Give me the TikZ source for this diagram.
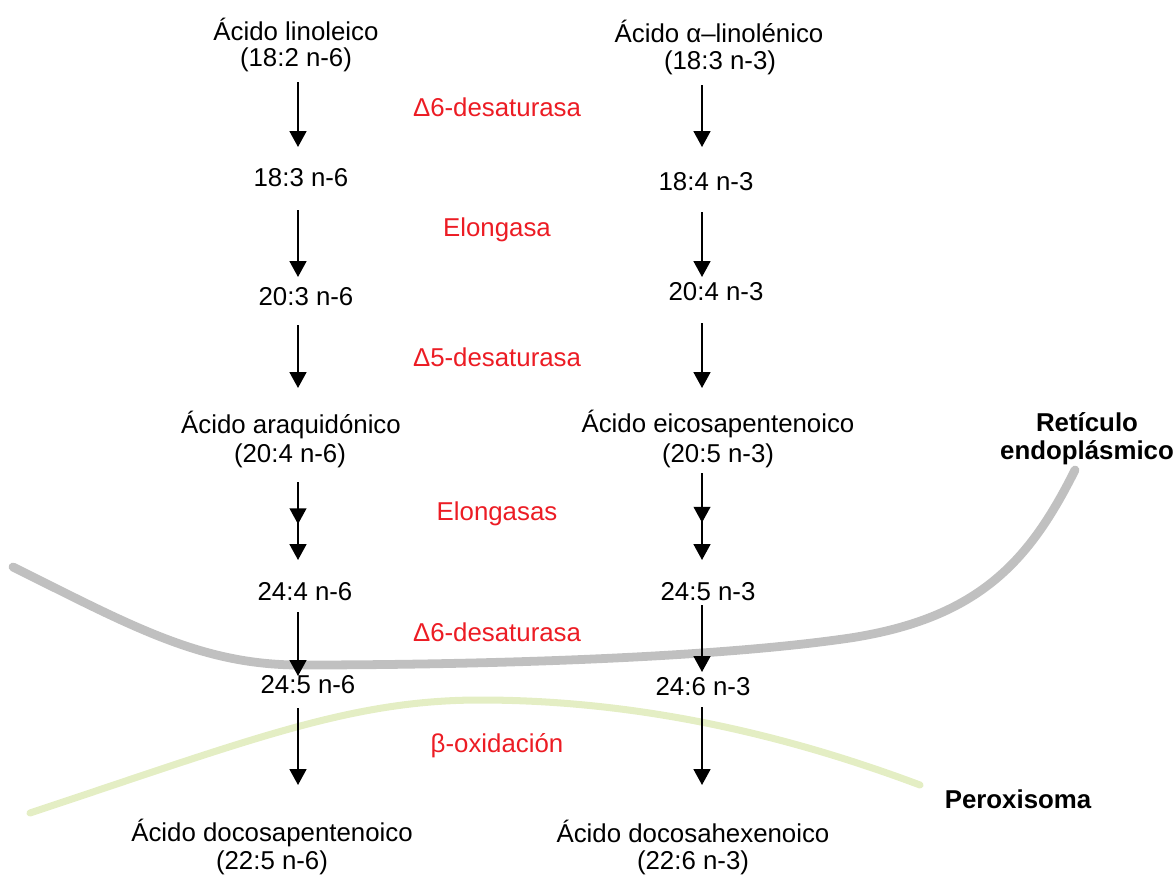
\documentclass[tikz,border=0pt]{standalone}
\usepackage{fontspec}
\setmainfont{Liberation Sans}
\usetikzlibrary{arrows.meta,decorations.markings,calc}
\definecolor{enz}{RGB}{236,28,36}
\definecolor{ergray}{RGB}{192,192,192}
\definecolor{pxgreen}{RGB}{228,238,196}
\begin{document}
\begin{tikzpicture}[x=0.02cm,y=-0.02cm,
  txt/.style={font=\fontsize{14.7pt}{17pt}\selectfont, inner sep=0pt, anchor=base},
  enzlabel/.style={txt, text=enz},
  orglabel/.style={txt, font=\fontsize{14.7pt}{17pt}\selectfont\bfseries},
  arr/.style={line width=1.2pt, -{Triangle[width=9.5pt,length=9pt]}},
  midarr/.style={postaction={decorate}, decoration={markings,
      mark=at position #1 with {\arrow{Triangle[width=9.5pt,length=9pt]}}}},
  membrane/.style={line width=5pt, color=ergray, line cap=round},
  perox/.style={line width=4pt, color=pxgreen, line cap=round}]
\useasboundingbox (0,0) rectangle (1175,876);

% organelle membranes
\draw[membrane] (13,567) .. controls (130,625) and (200,665) .. (300,665)
  .. controls (450,665) and (700,660) .. (850,638)
  .. controls (980,618) and (1030,560) .. (1075,470);
\draw[perox] (30,813) .. controls (250,740) and (350,700) .. (480,700)
  .. controls (650,700) and (800,740) .. (920,785);

\coordinate (L) at (298,0);
\coordinate (R) at (702,0);

% omega-6 column
\node[txt] (lin1) at (296,40) {Ácido linoleico};
\node[txt] (lin2) at (296,66) {(18:2 n-6)};
\node[txt] (n183) at (301,186) {18:3 n-6};
\node[txt] (n203) at (306,305) {20:3 n-6};
\node[txt] (ara1) at (291,433) {Ácido araquidónico};
\node[txt] (ara2) at (290,462) {(20:4 n-6)};
\node[txt] (n244) at (305,600) {24:4 n-6};
\node[txt] (n245) at (308,693) {24:5 n-6};
\node[txt] (dpa1) at (272,841) {Ácido docosapentenoico};
\node[txt] (dpa2) at (272,869) {(22:5 n-6)};

% omega-3 column
\node[txt] (aln1) at (719,42) {Ácido α–linolénico};
\node[txt] (aln2) at (720,69) {(18:3 n-3)};
\node[txt] (n184) at (706,190) {18:4 n-3};
\node[txt] (n204) at (716,300) {20:4 n-3};
\node[txt] (epa1) at (718,432) {Ácido eicosapentenoico};
\node[txt] (epa2) at (718,462) {(20:5 n-3)};
\node[txt] (n245r) at (708,600) {24:5 n-3};
\node[txt] (n246) at (703,695) {24:6 n-3};
\node[txt] (dha1) at (693,842) {Ácido docosahexenoico};
\node[txt] (dha2) at (693,869) {(22:6 n-3)};

% enzymes
\node[enzlabel] (e1) at (497,116) {Δ6-desaturasa};
\node[enzlabel] (e2) at (497,236) {Elongasa};
\node[enzlabel] (e3) at (497,366) {Δ5-desaturasa};
\node[enzlabel] (e4) at (497,520) {Elongasas};
\node[enzlabel] (e5) at (497,641) {Δ6-desaturasa};
\node[enzlabel] (e6) at (497,752) {β-oxidación};

% organelles
\node[orglabel] (re1) at (1087,431) {Retículo};
\node[orglabel] (re2) at (1087,459) {endoplásmico};
\node[orglabel] (pero) at (1018,808) {Peroxisoma};

% arrows, omega-6
\draw[arr] ($(lin2.base -| L)+(0,16)$) -- ($(n183.base -| L)+(0,-39)$);
\draw[arr] ($(n183.base -| L)+(0,24)$) -- ($(n203.base -| L)+(0,-28)$);
\draw[arr] ($(n203.base -| L)+(0,20)$) -- ($(ara1.base -| L)+(0,-45)$);
\draw[arr, midarr=0.54] ($(ara2.base -| L)+(0,20)$) -- ($(n244.base -| L)+(0,-40)$);
\draw[arr] ($(n244.base -| L)+(0,12)$) -- ($(n245.base -| L)+(0,-17)$);
\draw[arr] ($(n245.base -| L)+(0,15)$) -- ($(dpa1.base -| L)+(0,-56)$);

% arrows, omega-3
\draw[arr] ($(aln2.base -| R)+(0,16)$) -- ($(n184.base -| R)+(0,-43)$);
\draw[arr] ($(n184.base -| R)+(0,22)$) -- ($(n204.base -| R)+(0,-23)$);
\draw[arr] ($(n204.base -| R)+(0,23)$) -- ($(epa1.base -| R)+(0,-44)$);
\draw[arr, midarr=0.57] ($(epa2.base -| R)+(0,11)$) -- ($(n245r.base -| R)+(0,-40)$);
\draw[arr] ($(n245r.base -| R)+(0,5)$) -- ($(n246.base -| R)+(0,-23)$);
\draw[arr] ($(n246.base -| R)+(0,12)$) -- ($(dha1.base -| R)+(0,-57)$);
\end{tikzpicture}
\end{document}
